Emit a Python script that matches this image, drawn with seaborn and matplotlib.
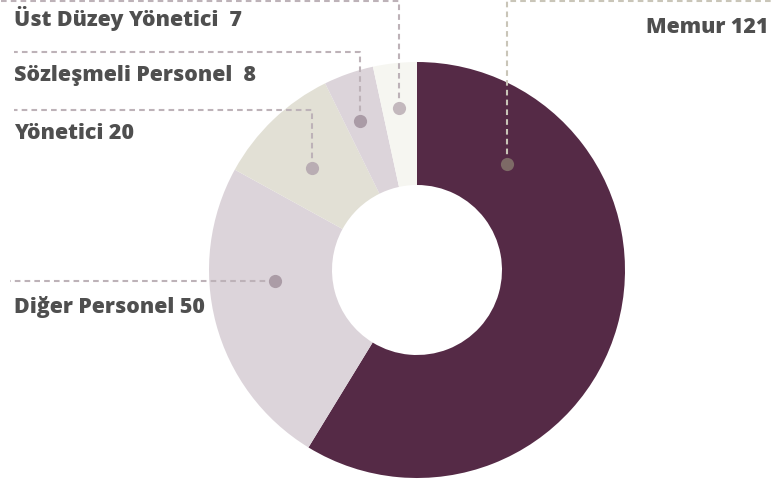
import numpy as np
import matplotlib
matplotlib.use("Agg")
import matplotlib.pyplot as plt
import seaborn as sns

# Staff counts by position
categories = ["Memur", "Diğer Personel", "Yönetici", "Sözleşmeli Personel", "Üst Düzey Yönetici"]
values = [121, 50, 20, 8, 7]

# Styling per slice
slice_colors = ["#552a46", "#dcd4da", "#e2e0d5", "#dcd4da", "#f6f6f1"]
dot_colors = ["#7d6a66", "#ab9ca6", "#b9adb3", "#aa9ba6", "#c3b8bd"]
line_colors = ["#c9c5b8", "#bdb2b8", "#bdb2b8", "#bdb2b8", "#bdb2b8"]
label_seps = [" ", " ", " ", "  ", "  "]

sns.set_theme(style="white")
plt.rcParams["font.family"] = ["Open Sans", "DejaVu Sans"]

W, H, DPI = 771, 479, 100
fig = plt.figure(figsize=(W / DPI, H / DPI), dpi=DPI)

# Donut geometry in pixels
cx, cy, R = 417, 270, 208
inner = 85

ax = fig.add_axes([(cx - R) / W, (H - cy - R) / H, 2 * R / W, 2 * R / H])
ax.pie(values, colors=slice_colors, startangle=90, counterclock=False,
       radius=1.0, wedgeprops=dict(width=1 - inner / R, linewidth=0))
ax.set_xlim(-1, 1)
ax.set_ylim(-1, 1)
ax.set_aspect("auto")
ax.axis("off")

# Overlay in pixel space for the callouts
ov = fig.add_axes([0, 0, 1, 1], facecolor="none")
ov.set_xlim(0, W)
ov.set_ylim(H, 0)
ov.axis("off")

# Dot placement: angle clockwise from 12 o'clock (deg), distance from centre (px)
dot_angle = [40.3, 265.6, 314.2, 339.1, 353.7]
dot_dist = [139, 142, 146, 160, 163]

# Leader routes: elbow y (None = straight horizontal) and end x
routes = [
    dict(up_to=0.8, end_x=W),
    dict(up_to=None, end_x=10),
    dict(up_to=110, end_x=14),
    dict(up_to=52, end_x=14),
    dict(up_to=0.8, end_x=0),
]
# Label anchor (x, baseline y, alignment)
label_pos = [(768, 33, "right"), (14, 313, "left"), (14, 139, "left"),
             (14, 81, "left"), (14, 26, "left")]

for i, (cat, val) in enumerate(zip(categories, values)):
    a = np.deg2rad(dot_angle[i])
    dx = cx + dot_dist[i] * np.sin(a)
    dy = cy - dot_dist[i] * np.cos(a)
    rt = routes[i]
    if rt["up_to"] is None:
        xs, ys = [dx, rt["end_x"]], [dy, dy]
    else:
        xs = [dx, dx, rt["end_x"]]
        ys = [dy, rt["up_to"], rt["up_to"]]
    ov.plot(xs, ys, color=line_colors[i], lw=1.5, linestyle=(0, (2.7, 2.0)),
            solid_capstyle="butt", dash_capstyle="butt", zorder=3)
    ov.plot([dx], [dy], "o", ms=9.5, color=dot_colors[i], mec="none", zorder=4)
    lx, ly, ha = label_pos[i]
    ov.text(lx, ly, f"{cat}{label_seps[i]}{val}", ha=ha, va="baseline",
            fontsize=15.4, fontweight=800, color="#4f4f4f")

fig.savefig("out.png", dpi=DPI)
